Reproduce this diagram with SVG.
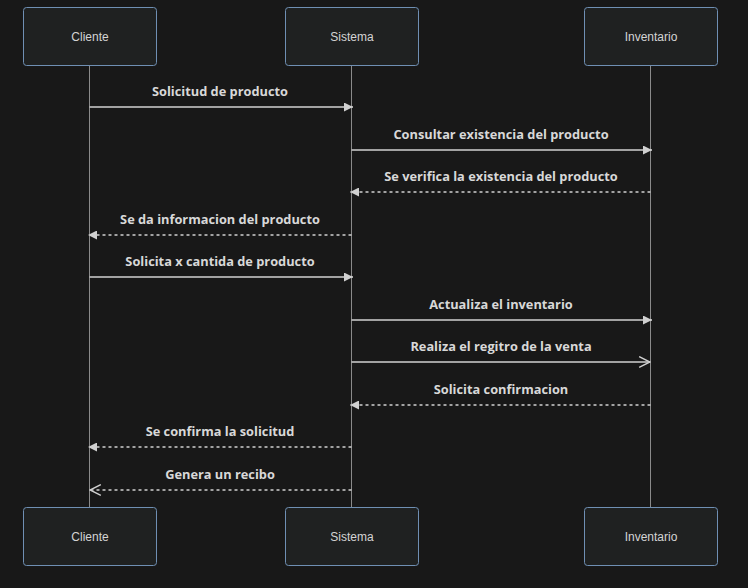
<svg xmlns="http://www.w3.org/2000/svg" width="748" height="588" viewBox="0 0 748 588">
<style>
.bg{fill:#181818}
.actor rect{fill:#1f2121;stroke:#6f8fb3;stroke-width:1}
.actor text{fill:#d4d4d4;font-family:"Liberation Sans",Arial,sans-serif;font-size:12px;text-anchor:middle;dominant-baseline:central}
.life{stroke:#8a8a8a;stroke-width:1}
.msg{stroke:#d0d0d0;stroke-width:1.5;fill:none}
.dash{stroke-dasharray:3,3}
.lbl{fill:#d8d8d8;font-family:"Open Sans","Liberation Sans",sans-serif;font-weight:bold;font-size:12.8px;text-anchor:middle}
</style>
<defs>
<marker id="ah" viewBox="0 0 10 10" refX="10" refY="5" markerWidth="9" markerHeight="9" markerUnits="userSpaceOnUse" orient="auto">
<path d="M0,0 L10,5 L0,10 z" fill="#d0d0d0"/>
</marker>
<marker id="oh" viewBox="0 0 12 12" refX="11" refY="6" markerWidth="13" markerHeight="13" markerUnits="userSpaceOnUse" orient="auto">
<path d="M1,1 L11,6 L1,11" fill="none" stroke="#d0d0d0" stroke-width="1.3"/>
</marker>
</defs>
<rect class="bg" x="0" y="0" width="748" height="588"/>
<g id="lifelines">
<line class="life" x1="89.5" y1="65" x2="89.5" y2="507"/>
<line class="life" x1="351.5" y1="65" x2="351.5" y2="507"/>
<line class="life" x1="650.5" y1="65" x2="650.5" y2="507"/>
</g>
<g id="cliente-top" class="actor"><rect x="23.5" y="7.5" width="133" height="58" rx="3"/><text x="90" y="36.5">Cliente</text></g>
<g id="sistema-top" class="actor"><rect x="285.5" y="7.5" width="133" height="58" rx="3"/><text x="352" y="36.5">Sistema</text></g>
<g id="inventario-top" class="actor"><rect x="584.5" y="7.5" width="133" height="58" rx="3"/><text x="651" y="36.5">Inventario</text></g>
<g id="cliente-bottom" class="actor"><rect x="23.5" y="507.5" width="133" height="58" rx="3"/><text x="90" y="536.5">Cliente</text></g>
<g id="sistema-bottom" class="actor"><rect x="285.5" y="507.5" width="133" height="58" rx="3"/><text x="352" y="536.5">Sistema</text></g>
<g id="inventario-bottom" class="actor"><rect x="584.5" y="507.5" width="133" height="58" rx="3"/><text x="651" y="536.5">Inventario</text></g>
<g id="connectors">
<line class="msg" x1="89.5" y1="107" x2="353" y2="107" marker-end="url(#ah)"/>
<text class="lbl" x="220" y="96">Solicitud de producto</text>
<line class="msg" x1="351.5" y1="150" x2="652" y2="150" marker-end="url(#ah)"/>
<text class="lbl" x="501" y="139">Consultar existencia del producto</text>
<line class="msg dash" x1="650.5" y1="192" x2="350" y2="192" marker-end="url(#ah)"/>
<text class="lbl" x="501" y="181">Se verifica la existencia del producto</text>
<line class="msg dash" x1="351.5" y1="235" x2="88" y2="235" marker-end="url(#ah)"/>
<text class="lbl" x="220" y="224">Se da informacion del producto</text>
<line class="msg" x1="89.5" y1="277" x2="353" y2="277" marker-end="url(#ah)"/>
<text class="lbl" x="220" y="266">Solicita x cantida de producto</text>
<line class="msg" x1="351.5" y1="320" x2="652" y2="320" marker-end="url(#ah)"/>
<text class="lbl" x="501" y="309">Actualiza el inventario</text>
<line class="msg" x1="351.5" y1="362" x2="650" y2="362" marker-end="url(#oh)"/>
<text class="lbl" x="501" y="351">Realiza el regitro de la venta</text>
<line class="msg dash" x1="650.5" y1="405" x2="350" y2="405" marker-end="url(#ah)"/>
<text class="lbl" x="501" y="394">Solicita confirmacion</text>
<line class="msg dash" x1="351.5" y1="447" x2="88" y2="447" marker-end="url(#ah)"/>
<text class="lbl" x="220" y="436">Se confirma la solicitud</text>
<line class="msg dash" x1="351.5" y1="490" x2="90" y2="490" marker-end="url(#oh)"/>
<text class="lbl" x="220" y="479">Genera un recibo</text>
</g>
</svg>
